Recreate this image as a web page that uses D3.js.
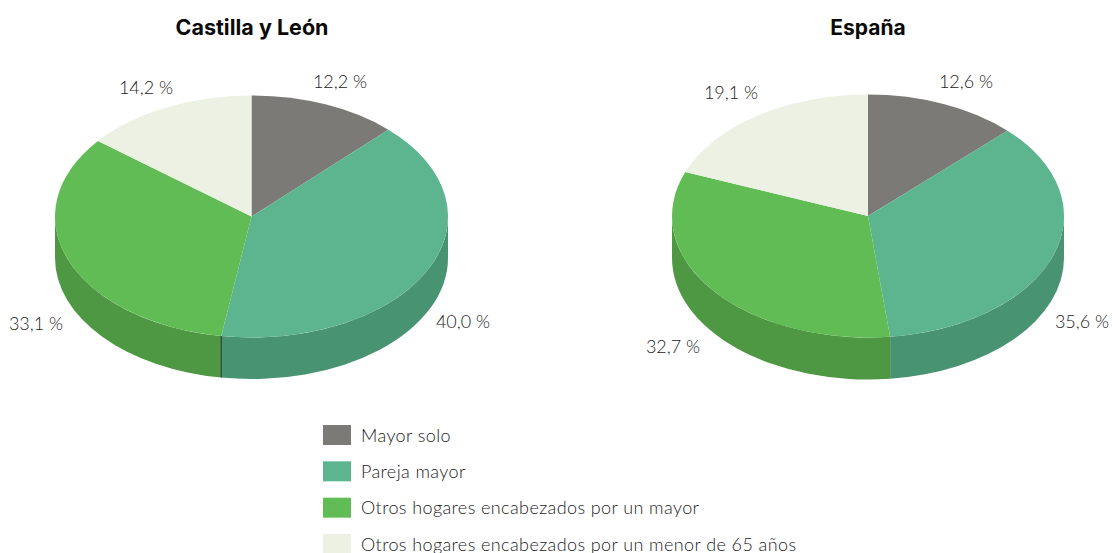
<!DOCTYPE html>
<html><head><meta charset="utf-8">
<script src="https://cdn.jsdelivr.net/npm/d3@7"></script>
<style>html,body{margin:0;padding:0;background:#fff;overflow:hidden}svg{display:block}</style>
</head><body><svg id="c" width="1112" height="553"></svg>
<script>
const categories = ["Mayor solo","Pareja mayor","Otros hogares encabezados por un mayor","Otros hogares encabezados por un menor de 65 años"];
const castillaValues = [12.2,40.0,33.1,14.2];
const espanaValues = [12.6,35.6,32.7,19.1];
const topColors = ["#7b7a77","#5db590","#62bc56","#ecf1e3"];
const sideColors = ["#625f5d","#489372","#4f9843","#bcc1b5"];

const panels = [
  {title:"Castilla y León", values:castillaValues, cx:251.5, cy:216.5, rx:196.5, ry:121, depth:41.5, titleX:252,
   labels:[[340,82],[463,322],[36,324],[146,88]], seam:true, titleSize:21.5},
  {title:"España", values:espanaValues, cx:868, cy:216, rx:196, ry:121.5, depth:42, titleX:868,
   labels:[[966,82],[1082,322],[673,347],[731,93]], seam:false, titleSize:21}
];
const svg = d3.select("#c");
const bodyFont = "Lato, 'Open Sans', sans-serif";
const fmt = v => v.toFixed(1).replace(".",",") + " %";
const pie = d3.pie().sort(null);

panels.forEach(p=>{
  const g = svg.append("g");
  const arcs = pie(p.values);
  const px = a => p.cx + p.rx*Math.sin(a), py = a => p.cy - p.ry*Math.cos(a);
  const front0 = Math.PI/2, front1 = 3*Math.PI/2;
  arcs.forEach((d,i)=>{
    const a0 = Math.max(d.startAngle,front0), a1 = Math.min(d.endAngle,front1);
    if(a1<=a0) return;
    g.append("path").attr("fill",sideColors[i]).attr("d",
      `M${px(a0)},${py(a0)}A${p.rx},${p.ry} 0 0 1 ${px(a1)},${py(a1)}`+
      `L${px(a1)},${py(a1)+p.depth}A${p.rx},${p.ry} 0 0 0 ${px(a0)},${py(a0)+p.depth}Z`);
  });
  if(p.seam){
    const a = arcs[1].endAngle;
    g.append("line").attr("x1",px(a)).attr("x2",px(a)).attr("y1",py(a)).attr("y2",py(a)+p.depth)
      .attr("stroke","#23302a").attr("stroke-width",1);
  }
  const arc = d3.arc().innerRadius(0).outerRadius(p.rx);
  g.append("g").attr("transform",`translate(${p.cx},${p.cy}) scale(1,${p.ry/p.rx})`)
    .selectAll("path").data(arcs).join("path")
    .attr("d",arc).attr("fill",(d,i)=>topColors[i]);
  g.append("text").attr("x",p.titleX).attr("y",35).attr("text-anchor","middle")
    .attr("font-family","Inter, Roboto, sans-serif").attr("font-weight",700).attr("font-size",p.titleSize).attr("fill","#0a0a0a").text(p.title);
  g.selectAll("text.v").data(p.values).join("text").attr("class","v")
    .attr("x",(d,i)=>p.labels[i][0]).attr("y",(d,i)=>p.labels[i][1]+6).attr("text-anchor","middle")
    .attr("font-family",bodyFont).attr("font-weight",300).attr("font-size",18).attr("fill","#222").text(fmt);
});

const legendY = d3.scalePoint().domain(categories).range([425,534]);
const leg = svg.append("g").selectAll("g").data(categories).join("g")
  .attr("transform",d=>`translate(323,${legendY(d)})`);
leg.append("rect").attr("width",28).attr("height",20).attr("fill",(d,i)=>topColors[i]);
leg.append("text").attr("x",38).attr("y",16.5).attr("font-family",bodyFont).attr("font-weight",300)
  .attr("font-size",18).attr("letter-spacing",0.4).attr("fill","#222").text(d=>d);
</script></body></html>
